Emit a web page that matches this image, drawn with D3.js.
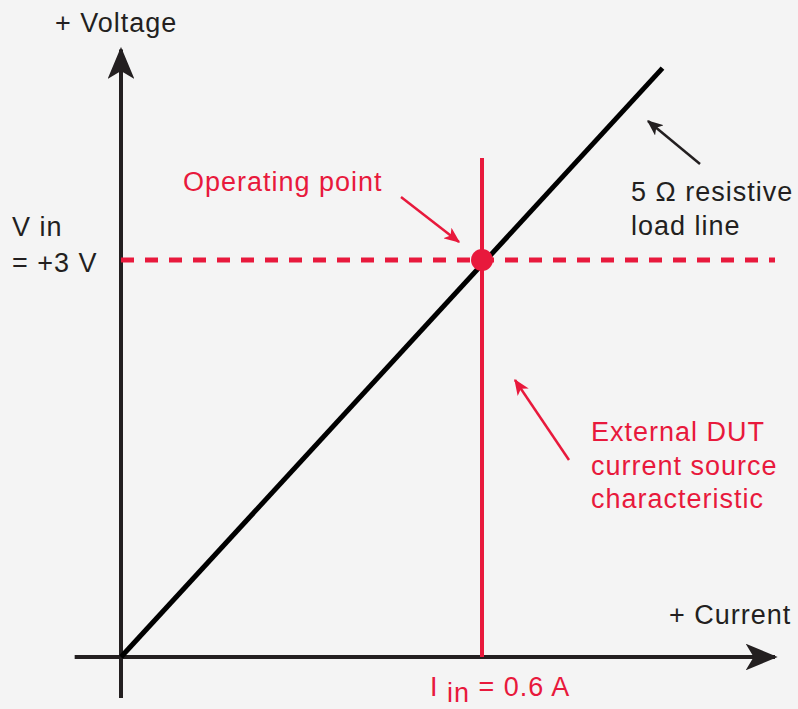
<!DOCTYPE html>
<html>
<head>
<meta charset="utf-8">
<script src="https://cdn.jsdelivr.net/npm/d3@7"></script>
<style>
  body { margin: 0; background: #f4f4f4; }
  text { font-family: "Liberation Sans", Arial, sans-serif; }
</style>
</head>
<body>
<div id="chart"></div>
<script>
// values (amps, volts)
var currentRange = [0, 0.6];
var voltageRange = [0, 3];
var loadLineI = [0, 0.9];
var loadLineV = [0, 4.45];
var operatingI = 0.6;
var operatingV = 3;
var sourceLineV = [0, 3.77];
var axisI = [-0.077, 1.087];
var axisV = [-0.31, 4.59];

var width = 798, height = 709;
var black = "#231f20", red = "#e8193c";

var x = d3.scaleLinear().domain(currentRange).range([121, 482]);
var y = d3.scaleLinear().domain(voltageRange).range([657, 260]);

var svg = d3.select("#chart")
    .append("svg")
    .attr("width", width)
    .attr("height", height)
    .style("background", "#f4f4f4");

var defs = svg.append("defs");
function marker(id, color, size) {
    defs.append("marker")
        .attr("id", id)
        .attr("viewBox", "0 -10 24 20")
        .attr("refX", 22)
        .attr("refY", 0)
        .attr("markerUnits", "userSpaceOnUse")
        .attr("markerWidth", size)
        .attr("markerHeight", size * 20 / 24)
        .attr("orient", "auto")
        .append("path")
        .attr("d", "M0,-10 L24,0 L0,10 L6,0 Z")
        .attr("fill", color);
}
marker("bigArrow", black, 32);
marker("smallBlack", black, 16);
marker("smallRed", red, 16);

// axes
svg.append("line")
    .attr("x1", x(axisI[0])).attr("y1", y(0))
    .attr("x2", x(axisI[1])).attr("y2", y(0))
    .attr("stroke", black).attr("stroke-width", 4)
    .attr("marker-end", "url(#bigArrow)");
svg.append("line")
    .attr("x1", x(0)).attr("y1", y(axisV[0]))
    .attr("x2", x(0)).attr("y2", y(axisV[1]))
    .attr("stroke", black).attr("stroke-width", 4)
    .attr("marker-end", "url(#bigArrow)");

// dashed V in line
svg.append("line")
    .attr("x1", x(0)).attr("y1", y(operatingV))
    .attr("x2", x(axisI[1])).attr("y2", y(operatingV))
    .attr("stroke", red).attr("stroke-width", 5)
    .attr("stroke-dasharray", "13,11");

// current source characteristic
svg.append("line")
    .attr("x1", x(operatingI)).attr("y1", y(sourceLineV[0]))
    .attr("x2", x(operatingI)).attr("y2", y(sourceLineV[1]))
    .attr("stroke", red).attr("stroke-width", 4);

// load line
var line = d3.line()
    .x(function(d) { return x(d[0]); })
    .y(function(d) { return y(d[1]); });
svg.append("path")
    .datum(d3.zip(loadLineI, loadLineV))
    .attr("d", line)
    .attr("fill", "none")
    .attr("stroke", "#000")
    .attr("stroke-width", 5);

// operating point
svg.append("circle")
    .attr("cx", x(operatingI))
    .attr("cy", y(operatingV))
    .attr("r", 11)
    .attr("fill", red);

// annotation arrows
function arrow(x1, y1, x2, y2, color, m) {
    svg.append("line")
        .attr("x1", x1).attr("y1", y1)
        .attr("x2", x2).attr("y2", y2)
        .attr("stroke", color).attr("stroke-width", 2.5)
        .attr("marker-end", "url(#" + m + ")");
}
arrow(401, 197, 459, 242, red, "smallRed");
arrow(700, 164, 648, 121, black, "smallBlack");
arrow(569, 460, 515, 380, red, "smallRed");

// text labels
function label(tx, ty, str, color) {
    svg.append("text")
        .attr("x", tx).attr("y", ty)
        .attr("font-size", 27)
        .attr("letter-spacing", 1)
        .attr("fill", color)
        .text(str);
}
label(55, 32, "+ Voltage", black);
label(669, 624, "+ Current", black);
label(12, 236, "V in", black);
label(12, 272, "= +3 V", black);
label(183, 191, "Operating point", red);
label(631, 201, "5 \u03A9 resistive", black);
label(631, 235, "load line", black);
label(591, 441, "External DUT", red);
label(591, 475, "current source", red);
label(591, 508, "characteristic", red);

var iin = svg.append("text")
    .attr("x", 430).attr("y", 696)
    .attr("font-size", 27)
    .attr("letter-spacing", 1)
    .attr("fill", red);
iin.append("tspan").text("I ");
iin.append("tspan").attr("dy", 6).text("in");
iin.append("tspan").attr("dy", -6).text(" = 0.6 A");
</script>
</body>
</html>
